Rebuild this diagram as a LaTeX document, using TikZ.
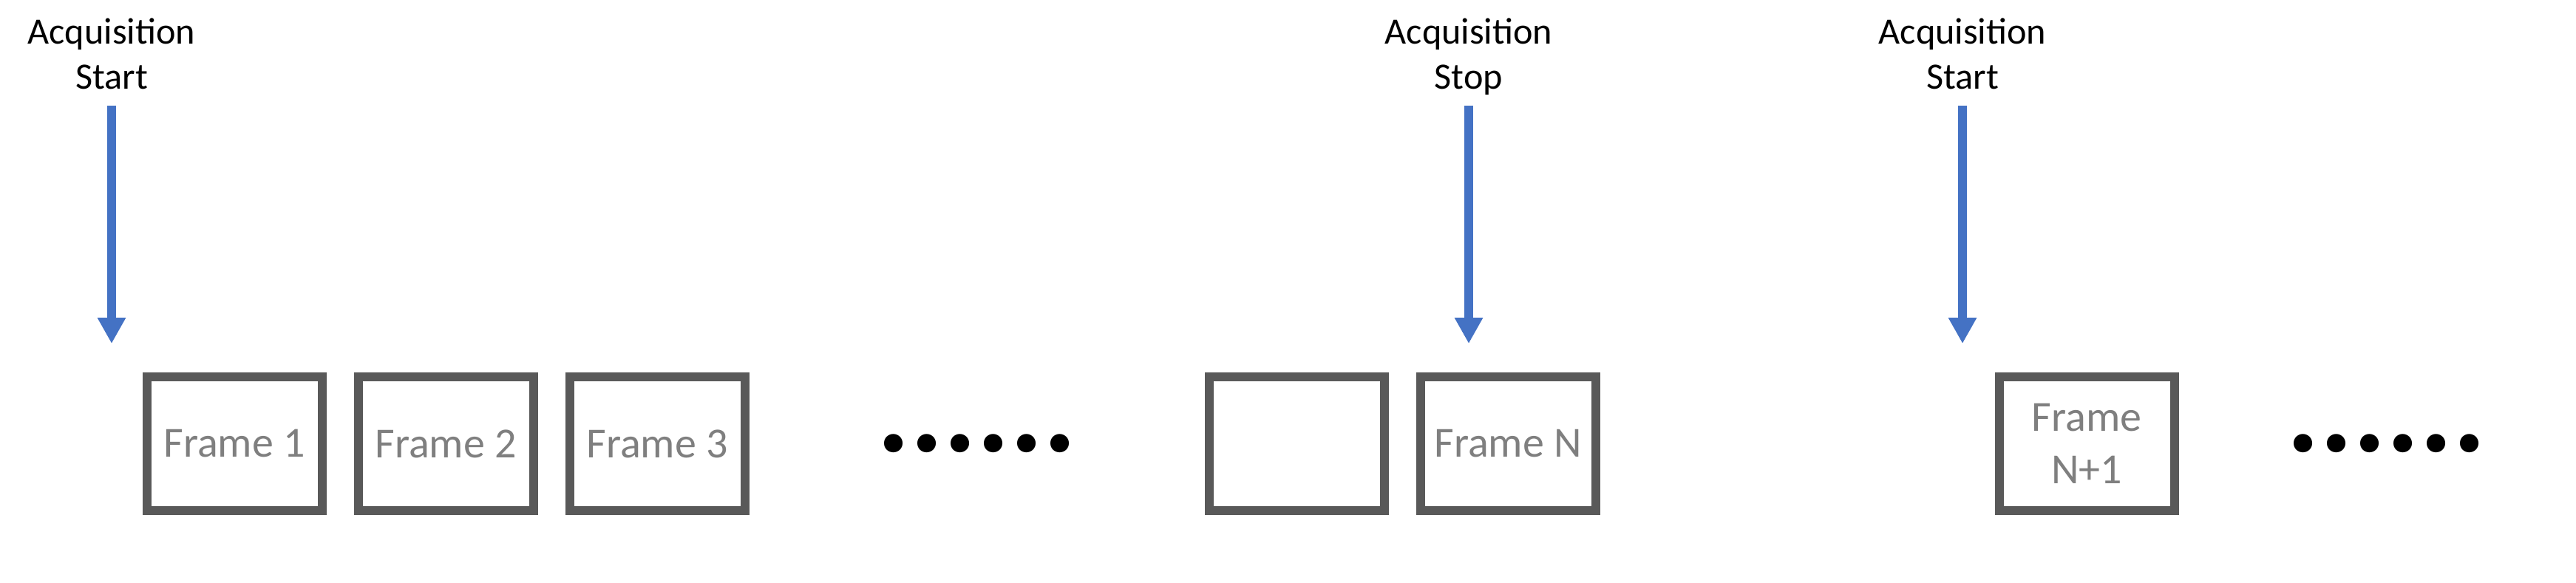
\documentclass[tikz,border=0pt]{standalone}
\usepackage{fontspec}
\setmainfont{Carlito}
\usetikzlibrary{arrows.meta,positioning,calc}

\definecolor{acqblue}{HTML}{4472C4}
\definecolor{framegray}{HTML}{595959}
\definecolor{labelgray}{HTML}{7F7F7F}

\tikzset{
  framebox/.style={draw=framegray, line width=0.12cm, minimum width=2.37cm,
    minimum height=1.81cm, inner sep=0pt, align=center, text=labelgray,
    font=\fontsize{16.5}{20}\selectfont},
  acqlabel/.style={anchor=south, align=center, inner sep=0pt, outer sep=0pt,
    text depth=0.22cm, font=\fontsize{14.3}{17.6}\selectfont},
  acqarrow/.style={draw=acqblue, line width=0.12cm,
    -{Triangle[width=0.36cm,length=0.35cm]}},
  moredots/.style={inner sep=0pt, font=\fontsize{48}{48}\selectfont\bfseries}
}

\begin{document}
\begin{tikzpicture}

        \useasboundingbox (0,0) rectangle (34.85,7.88);

        % Frames of the first acquisition
        \node[framebox] (f1) at (3.17,1.875) {Frame 1};
        \node[framebox, right=0.37cm of f1] (f2) {Frame 2};
        \node[framebox, right=0.37cm of f2] (f3) {Frame 3};
        \node[framebox, right=6.16cm of f3] (fblank) {};
        \node[framebox, right=0.37cm of fblank] (fN) {Frame N};

        % Next acquisition
        \node[framebox, right=5.34cm of fN] (fN1) {Frame\\N+1};

        % Gaps
        \node[moredots] (dotsA) at ($(f3.east)!0.5!(fblank.west)$) {......};
        \node[moredots] (dotsB) at ($(fN1.east)+(2.81,0)$) {......};

        % Start / stop events
        \node[acqlabel] (startA) at (1.51,6.45) {Acquisition\\Start};
        \node[acqlabel] (stopA) at (19.87,6.45) {Acquisition\\Stop};
        \node[acqlabel] (startB) at (26.55,6.45) {Acquisition\\Start};

        \coordinate (tipA) at (1.51,3.23);
        \coordinate (tipB) at (19.87,3.23);
        \coordinate (tipC) at (26.55,3.23);

        \draw[acqarrow] (startA.south) -- (tipA);
        \draw[acqarrow] (stopA.south) -- (tipB);
        \draw[acqarrow] (startB.south) -- (tipC);

      \end{tikzpicture}
\end{document}
